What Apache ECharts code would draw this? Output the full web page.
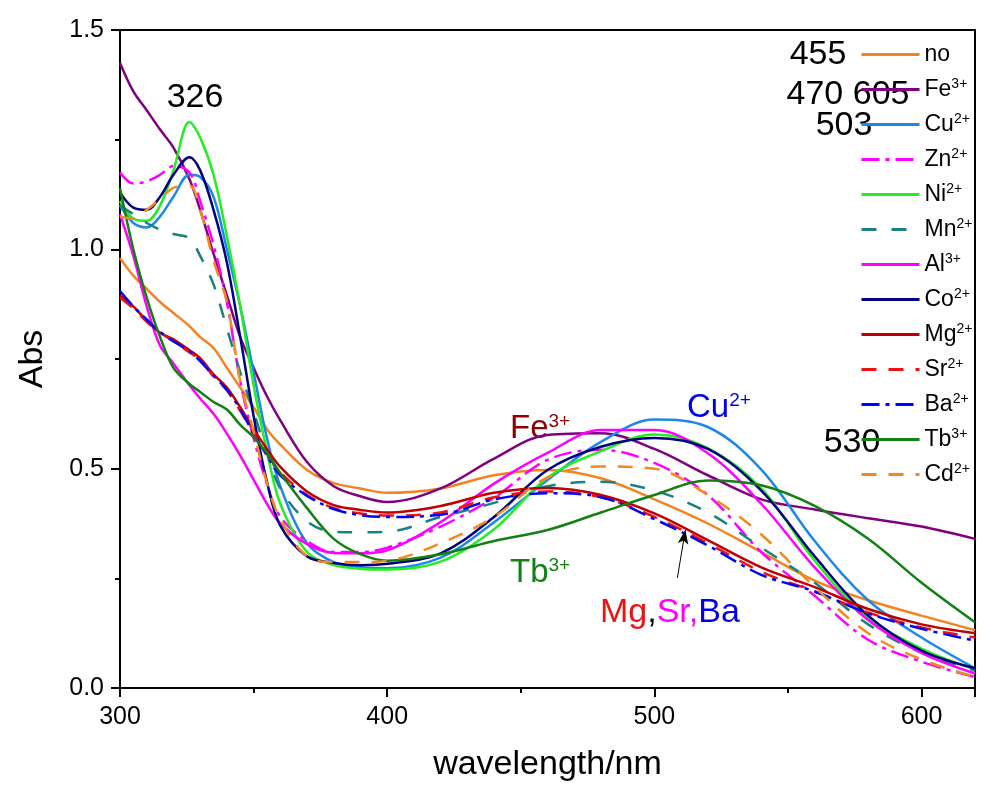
<!DOCTYPE html>
<html>
<head>
<meta charset="utf-8">
<script src="https://cdn.jsdelivr.net/npm/echarts@6/dist/echarts.min.js"></script>
<style>html,body{margin:0;padding:0;background:#fff;}#chart{width:1003px;height:785px;}</style>
</head>
<body>
<div id="chart"></div>
<script>
// wavelength grid (nm)
const wavelengths = [300,305,310,315,320,326,330,335,340,345,350,355,360,370,380,390,400,420,440,460,480,500,520,540,560,580,600,620];

// absorbance series
const absNo = [0.98,0.94,0.91,0.88,0.855,0.825,0.80,0.775,0.73,0.685,0.64,0.59,0.555,0.497,0.467,0.455,0.445,0.455,0.485,0.497,0.478,0.43,0.375,0.31,0.245,0.20,0.165,0.132];
const absFe = [1.425,1.36,1.317,1.273,1.232,1.16,1.09,0.99,0.895,0.80,0.73,0.665,0.61,0.515,0.46,0.437,0.424,0.455,0.523,0.577,0.581,0.545,0.485,0.43,0.407,0.387,0.368,0.34];
const absCu = [1.10,1.06,1.05,1.075,1.12,1.17,1.165,1.12,1.0,0.87,0.72,0.57,0.46,0.33,0.287,0.275,0.273,0.297,0.378,0.474,0.561,0.612,0.595,0.498,0.335,0.20,0.115,0.045];
const absZn = [1.175,1.15,1.155,1.17,1.19,1.175,1.11,1.01,0.88,0.70,0.57,0.465,0.39,0.335,0.31,0.31,0.32,0.368,0.434,0.52,0.543,0.513,0.44,0.31,0.21,0.11,0.06,0.025];
const absNi = [1.11,1.07,1.065,1.10,1.18,1.29,1.255,1.17,1.03,0.87,0.69,0.54,0.42,0.31,0.28,0.272,0.27,0.288,0.362,0.48,0.54,0.578,0.547,0.455,0.29,0.16,0.09,0.042];
const absMn = [1.10,1.08,1.06,1.045,1.035,1.025,0.985,0.92,0.82,0.72,0.63,0.535,0.455,0.38,0.356,0.355,0.356,0.39,0.422,0.46,0.47,0.45,0.40,0.32,0.24,0.145,0.08,0.04];
const absAl = [1.08,0.985,0.87,0.78,0.74,0.69,0.66,0.625,0.58,0.53,0.475,0.42,0.375,0.328,0.308,0.307,0.314,0.378,0.466,0.536,0.588,0.588,0.535,0.42,0.275,0.155,0.08,0.033];
const absCo = [1.13,1.095,1.09,1.12,1.17,1.21,1.18,1.09,0.97,0.80,0.62,0.47,0.37,0.30,0.285,0.28,0.283,0.307,0.39,0.497,0.55,0.57,0.545,0.45,0.30,0.165,0.085,0.045];
const absMg = [0.895,0.87,0.837,0.81,0.795,0.77,0.752,0.715,0.685,0.64,0.59,0.545,0.504,0.448,0.417,0.406,0.40,0.415,0.445,0.456,0.44,0.398,0.337,0.275,0.23,0.18,0.145,0.125];
const absSr = [0.89,0.865,0.835,0.81,0.79,0.765,0.748,0.71,0.678,0.632,0.58,0.535,0.492,0.44,0.41,0.398,0.393,0.40,0.435,0.448,0.435,0.39,0.33,0.265,0.22,0.172,0.138,0.115];
const absBa = [0.905,0.87,0.84,0.812,0.79,0.768,0.745,0.712,0.68,0.635,0.58,0.53,0.485,0.438,0.408,0.394,0.39,0.395,0.43,0.444,0.435,0.385,0.325,0.258,0.22,0.17,0.135,0.108];
const absTb = [1.14,1.0,0.89,0.80,0.73,0.693,0.675,0.652,0.635,0.60,0.572,0.535,0.49,0.41,0.34,0.305,0.29,0.305,0.335,0.36,0.40,0.44,0.473,0.462,0.415,0.34,0.24,0.15];
const absCd = [1.075,1.07,1.09,1.115,1.14,1.145,1.09,0.975,0.88,0.70,0.585,0.467,0.385,0.30,0.287,0.287,0.29,0.33,0.39,0.48,0.505,0.50,0.44,0.35,0.23,0.125,0.065,0.025];

// series names (legend) and superscripts
const seriesNames = ['no','Fe3+','Cu2+','Zn2+','Ni2+','Mn2+','Al3+','Co2+','Mg2+','Sr2+','Ba2+','Tb3+','Cd2+'];
const legendBase = ['no','Fe','Cu','Zn','Ni','Mn','Al','Co','Mg','Sr','Ba','Tb','Cd'];
const legendSup = ['','3+','2+','2+','2+','2+','3+','2+','2+','2+','2+','3+','2+'];
const seriesValues = [absNo,absFe,absCu,absZn,absNi,absMn,absAl,absCo,absMg,absSr,absBa,absTb,absCd];

// axis ticks
const xTicks = [300,400,500,600];
const yTicks = [0.0,0.5,1.0,1.5];

// arrow annotation (data coordinates)
const arrowFrom = [508.6,0.251];
const arrowTo = [511.6,0.36];

const colors = ['#F58220','#800080','#1E88E8','#FF00FF','#22EE22','#1A8080','#FF00FF','#000080','#C00000','#EE1111','#0000FF','#138013','#F08A20'];
const dashes = ['solid','solid','solid',[18,6,4,6],'solid',[15,15],'solid','solid','solid',[15,12],[18,6,4,6],'solid',[15,12]];

const FONT = 'Liberation Sans, Arial, sans-serif';
const chart = echarts.init(document.getElementById('chart'));

const series = seriesNames.map((n,i)=>({
  name:n, type:'line', smooth:0.35, showSymbol:false, symbol:'none',
  data: wavelengths.map((w,j)=>[w, seriesValues[i][j]]),
  lineStyle:{color:colors[i], width:2.5, type:dashes[i]},
  itemStyle:{color:colors[i]},
  z: 2
}));
series[8].markLine = {
  silent:true, animation:false,
  symbol:['none','arrow'], symbolSize:[8,14],
  lineStyle:{color:'#000', width:1, type:'solid'},
  label:{show:false},
  data:[[{coord:arrowFrom},{coord:arrowTo}]]
};

function supText(base, sup, color, size, supSize){
  return {
    text: sup ? '{a|'+base+'}{b|'+sup+'}' : '{a|'+base+'}',
    rich:{
      a:{fontSize:size, fill:color, fontFamily:FONT},
      b:{fontSize:supSize, fill:color, fontFamily:FONT, verticalAlign:'top'}
    }
  };
}

const graphics = [
  {type:'text', x:195, y:98, style:{text:'326', font:'34px '+FONT, fill:'#000', align:'center', verticalAlign:'middle'}},
  {type:'text', x:818, y:55, style:{text:'455', font:'34px '+FONT, fill:'#000', align:'center', verticalAlign:'middle'}},
  {type:'text', x:848, y:95, style:{text:'470 605', font:'34px '+FONT, fill:'#000', align:'center', verticalAlign:'middle'}},
  {type:'text', x:844, y:126, style:{text:'503', font:'34px '+FONT, fill:'#000', align:'center', verticalAlign:'middle'}},
  {type:'text', x:852, y:443, style:{text:'530', font:'34px '+FONT, fill:'#000', align:'center', verticalAlign:'middle'}},
  {type:'text', x:510, y:412, style:supText('Fe','3+','#8B0000',33,19)},
  {type:'text', x:687, y:391, style:supText('Cu','2+','#0000EE',33,19)},
  {type:'text', x:510, y:556, style:supText('Tb','3+','#138013',33,19)},
  {type:'text', x:600, y:596, style:{
    text:'{r|Mg}{k|,}{m|Sr,}{b|Ba}',
    rich:{
      r:{fontSize:34, fill:'#EE1111', fontFamily:FONT},
      k:{fontSize:34, fill:'#000', fontFamily:FONT},
      m:{fontSize:34, fill:'#FF00FF', fontFamily:FONT},
      b:{fontSize:34, fill:'#0000EE', fontFamily:FONT}
    }
  }}
];

chart.setOption({
  animation:false,
  textStyle:{fontFamily:FONT},
  grid:{left:120, right:28, top:30, bottom:97, containLabel:false, outerBoundsMode:'none',
        show:true, borderColor:'#000', borderWidth:2, backgroundColor:'transparent'},
  legend:{
    orient:'vertical', left:855, top:38, itemWidth:58, itemHeight:12, itemGap:11,
    selectedMode:false,
    itemStyle:{opacity:0},
    lineStyle:{width:3},
    data: seriesNames,
    formatter: function(name){
      const i = seriesNames.indexOf(name);
      return legendSup[i] ? '{n|'+legendBase[i]+'}{s|'+legendSup[i]+'}' : '{n|'+legendBase[i]+'}';
    },
    textStyle:{color:'#000', fontSize:23, fontFamily:FONT,
      rich:{n:{fontSize:23, lineHeight:25, color:'#000', fontFamily:FONT},
            s:{fontSize:14, lineHeight:25, color:'#000', fontFamily:FONT, verticalAlign:'top'}}}
  },
  xAxis:{
    type:'value', min:300, max:620, interval:100,
    name:'wavelength/nm', nameLocation:'middle', nameGap:60,
    nameTextStyle:{fontSize:34, color:'#000', fontFamily:FONT},
    axisLine:{show:true, lineStyle:{color:'#000', width:2}},
    axisTick:{show:true, inside:false, length:9, lineStyle:{color:'#000', width:2}},
    minorTick:{show:true, splitNumber:2, length:5, lineStyle:{color:'#000', width:2}},
    splitLine:{show:false},
    axisLabel:{fontSize:25, color:'#000', margin:17, fontFamily:FONT, showMaxLabel:false,
      formatter:function(v){ return xTicks.indexOf(v)>=0 ? String(v) : ''; }}
  },
  yAxis:{
    type:'value', min:0, max:1.5, interval:0.5,
    name:'Abs', nameLocation:'middle', nameGap:70, nameRotate:90,
    nameTextStyle:{fontSize:34, color:'#000', fontFamily:FONT},
    axisLine:{show:true, lineStyle:{color:'#000', width:2}},
    axisTick:{show:true, inside:false, length:9, lineStyle:{color:'#000', width:2}},
    minorTick:{show:true, splitNumber:2, length:5, lineStyle:{color:'#000', width:2}},
    splitLine:{show:false},
    axisLabel:{fontSize:25, color:'#000', margin:16, fontFamily:FONT,
      formatter:function(v){ return yTicks.indexOf(v)>=0 ? v.toFixed(1) : ''; }}
  },
  graphic: graphics,
  series: series
});
</script>
</body>
</html>
